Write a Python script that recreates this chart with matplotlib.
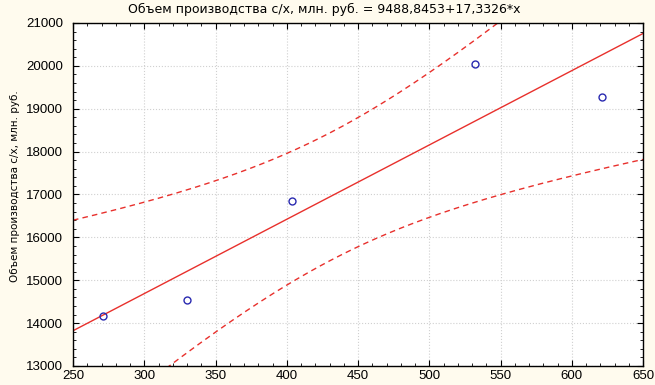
import numpy as np
import matplotlib
matplotlib.use("Agg")
import matplotlib.pyplot as plt
from matplotlib.ticker import AutoMinorLocator, MultipleLocator

plt.rcParams['font.family'] = ['Liberation Sans', 'DejaVu Sans']

# data
x_pts = [271, 330, 404, 532, 621]
y_pts = [14170, 14545, 16850, 20040, 19275]
intercept = 9488.8453
slope = 17.3326
x_range = [250, 650]
y_range = [13000, 21000]
title = "Объем производства с/х, млн. руб. = 9488,8453+17,3326*x"
ylabel = "Объем производства с/х, млн. руб."
t_crit = 3.182  # 95%, df = 3

xp = np.array(x_pts, float)
yp = np.array(y_pts, float)
n = len(xp)
xs = np.linspace(x_range[0], x_range[1], 200)
yfit = intercept + slope * xs
resid = yp - (intercept + slope * xp)
s = np.sqrt(np.sum(resid ** 2) / (n - 2))
sxx = np.sum((xp - xp.mean()) ** 2)
half = t_crit * s * np.sqrt(1.0 / n + (xs - xp.mean()) ** 2 / sxx)

fig = plt.figure(figsize=(6.55, 3.85), dpi=100, facecolor='#fffbee')
ax = fig.add_axes([73 / 655, 1 - 366 / 385, (643 - 73) / 655, (366 - 23) / 385])
ax.set_facecolor('white')

ax.plot(xs, yfit, color='#e8302c', lw=1.0)
ax.plot(xs, yfit + half, color='#e8302c', lw=1.0, ls=(0, (4, 3)))
ax.plot(xs, yfit - half, color='#e8302c', lw=1.0, ls=(0, (4, 3)))
ax.plot(xp, yp, 'o', mfc='none', mec='#2a2ab0', mew=1.0, ms=5)

ax.set_xlim(x_range)
ax.set_ylim(y_range)
ax.xaxis.set_major_locator(MultipleLocator(50))
ax.yaxis.set_major_locator(MultipleLocator(1000))
ax.xaxis.set_minor_locator(AutoMinorLocator(5))
ax.yaxis.set_minor_locator(AutoMinorLocator(5))
ax.grid(True, which='major', color='#d0d0d0', ls=':', lw=0.8)
ax.tick_params(which='both', direction='in', top=True, right=True, colors='black',
               labelsize=9.5)
ax.tick_params(which='major', length=4)
ax.tick_params(which='minor', length=2)
ax.tick_params(axis='y', pad=7)
ax.tick_params(axis='x', pad=3)
for sp in ax.spines.values():
    sp.set_color('black')
    sp.set_linewidth(1.0)

fig.text(0.495, 0.992, title, ha='center', va='top', fontsize=9, family=['DejaVu Sans'])
fig.text(15 / 655, 1 - 186 / 385, ylabel, rotation=90, ha='center', va='center',
         fontsize=7.5, family=['DejaVu Sans'])

fig.savefig('out.png', dpi=100, facecolor=fig.get_facecolor())
